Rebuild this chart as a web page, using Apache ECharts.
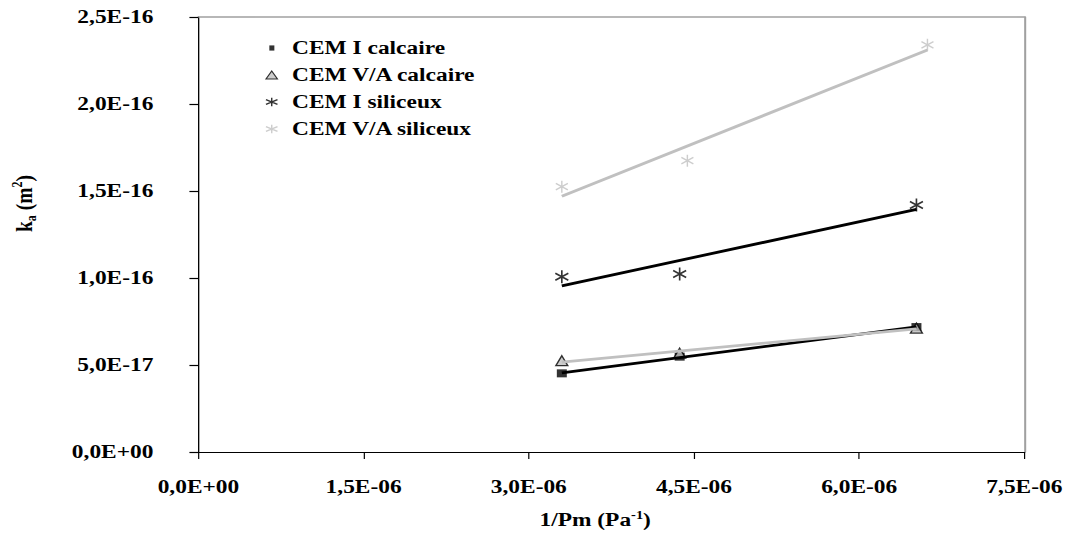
<!DOCTYPE html>
<html><head><meta charset="utf-8">
<script src="https://cdn.jsdelivr.net/npm/echarts@6/dist/echarts.min.js"></script>
<style>html,body{margin:0;padding:0;background:#fff;overflow:hidden}
#c{width:888px;height:535px;transform-origin:0 0;}</style>
</head><body><div id="c"></div>
<script>
const seriesNames = ['CEM I calcaire', 'CEM V/A calcaire', 'CEM I siliceux', 'CEM V/A siliceux'];
const cemICalcaireX = [3.30e-6, 4.37e-6, 6.52e-6];
const cemICalcaireY = [4.52e-17, 5.48e-17, 7.18e-17];
const cemVACalcaireX = [3.30e-6, 4.37e-6, 6.52e-6];
const cemVACalcaireY = [5.25e-17, 5.68e-17, 7.12e-17];
const cemISiliceuxX = [3.30e-6, 4.37e-6, 6.52e-6];
const cemISiliceuxY = [1.007e-16, 1.023e-16, 1.42e-16];
const cemVASiliceuxX = [3.30e-6, 4.44e-6, 6.62e-6];
const cemVASiliceuxY = [1.525e-16, 1.674e-16, 2.34e-16];
const xTicks = [0, 1.5e-6, 3e-6, 4.5e-6, 6e-6, 7.5e-6];
const yTicks = [0, 5e-17, 1e-16, 1.5e-16, 2e-16, 2.5e-16];

// the reference picture is horizontally stretched: draw narrower, then stretch
const W = 1066, W0 = 888, S = W / W0;
document.getElementById('c').style.transform = 'scaleX(' + S + ')';
const px = v => v / S; // real horizontal pixels -> pre-stretch pixels

const FONT = 'Liberation Serif';
const FS = 19.5;
const GRAY = '#c0c0c0';
const BORDER = '#a0a0a0';
const STAR = 'path://M5,0L5,13M0,3L10,10M0,10L10,3';
const LEG_SQUARE = 'path://M0,0M17,12M3,3.4h4.2v5.2h-4.2z';
const LEG_TRI = 'path://M0,0M17,12M5,2L9.8,10L0.2,10Z';
const LEG_STAR = 'path://M0,0M17,12M5,1.8L5,10.2M0.2,3.6L9.8,8.4M0.2,8.4L9.8,3.6';

function sci(v) {
  let s = Number(v).toExponential(1);
  let [m, e] = s.split('e');
  let sign = e[0] === '-' ? '-' : '+';
  let d = e.replace(/^[+-]/, '');
  if (d.length < 2) d = '0' + d;
  return m.replace('.', ',') + 'E' + sign + d;
}
function pairs(xs, ys) { return xs.map((x, i) => [x, ys[i]]); }
function trend(xs, ys) {
  const n = xs.length;
  const mx = xs.reduce((a, b) => a + b, 0) / n;
  const my = ys.reduce((a, b) => a + b, 0) / n;
  let sxy = 0, sxx = 0;
  for (let i = 0; i < n; i++) { sxy += (xs[i] - mx) * (ys[i] - my); sxx += (xs[i] - mx) ** 2; }
  const b = sxy / sxx, a = my - b * mx;
  const x0 = Math.min(...xs), x1 = Math.max(...xs);
  return [[x0, a + b * x0], [x1, a + b * x1]];
}
function trendSeries(xs, ys, color) {
  return { type: 'line', data: trend(xs, ys), symbol: 'none', silent: true, z: 3,
    lineStyle: { color: color, width: 2.8 } };
}
const txt = { fontFamily: FONT, fontWeight: 'bold', fontSize: FS, color: '#000' };
const xRange = { min: xTicks[0], max: xTicks[xTicks.length - 1], interval: xTicks[1] - xTicks[0] };
const yRange = { min: yTicks[0], max: yTicks[yTicks.length - 1], interval: yTicks[1] - yTicks[0] };

const chart = echarts.init(document.getElementById('c'), null, { renderer: 'svg', width: W0, height: 535 });
chart.setOption({
  animation: false,
  backgroundColor: '#fff',
  grid: { left: px(193), right: px(W - 1033), top: 17, bottom: 83, containLabel: false },
  legend: {
    orient: 'vertical', left: px(259), top: 33, itemGap: 7, itemWidth: 17, itemHeight: 12,
    textStyle: Object.assign({}, txt),
    data: [
      { name: seriesNames[0], icon: LEG_SQUARE, itemStyle: { color: '#000', borderWidth: 0 } },
      { name: seriesNames[1], icon: LEG_TRI, itemStyle: { color: GRAY, borderColor: '#000', borderWidth: 1 } },
      { name: seriesNames[2], icon: LEG_STAR, itemStyle: { color: 'transparent', borderColor: '#000', borderWidth: 1.2 } },
      { name: seriesNames[3], icon: LEG_STAR, itemStyle: { color: 'transparent', borderColor: GRAY, borderWidth: 1.2 } }
    ]
  },
  xAxis: [Object.assign({
    type: 'value', position: 'bottom',
    splitLine: { show: false },
    axisLine: { onZero: false, lineStyle: { color: '#000', width: 1.2 } },
    axisTick: { inside: false, length: 7, lineStyle: { color: '#000', width: 1 } },
    axisLabel: Object.assign({ margin: 25, formatter: sci }, txt),
    name: '{n|1/Pm (Pa}{sup|-1}{n|)}', nameLocation: 'middle', nameGap: 57,
    nameTextStyle: {
      padding: [0, 27, 0, 0],
      rich: {
        n: Object.assign({ lineHeight: 22 }, txt),
        sup: Object.assign({}, txt, { fontSize: 12, verticalAlign: 'top', lineHeight: 22, padding: [0, 0, 7, 0] })
      }
    }
  }, xRange), Object.assign({
    type: 'value', position: 'top',
    splitLine: { show: false },
    axisLine: { show: true, onZero: false, lineStyle: { color: BORDER, width: 1.5 } },
    axisTick: { show: false }, axisLabel: { show: false }
  }, xRange)],
  yAxis: [Object.assign({
    type: 'value', position: 'left',
    splitLine: { show: false },
    axisLine: { show: true, onZero: false, lineStyle: { color: '#000', width: 1.1 } },
    axisTick: { show: true, inside: false, length: px(9), lineStyle: { color: '#000', width: 1.2 } },
    axisLabel: Object.assign({ margin: px(45), formatter: sci }, txt),
    name: '{n|k}{sub|a}{n| (m}{sup|2}{n|)}', nameLocation: 'middle', nameGap: px(160), nameRotate: 90,
    nameTextStyle: {
      padding: [0, 0, 0, 62],
      rich: {
        n: Object.assign({ lineHeight: 24 }, txt),
        sub: Object.assign({}, txt, { fontSize: 12, verticalAlign: 'bottom', lineHeight: 24, padding: [7, 0, 0, 0] }),
        sup: Object.assign({}, txt, { fontSize: 12, verticalAlign: 'top', lineHeight: 24, padding: [0, 0, 7, 0] })
      }
    }
  }, yRange), Object.assign({
    type: 'value', position: 'right',
    splitLine: { show: false },
    axisLine: { show: true, onZero: false, lineStyle: { color: BORDER, width: 1.7 } },
    axisTick: { show: false }, axisLabel: { show: false }
  }, yRange)],
  series: [
    { name: seriesNames[0], type: 'scatter', data: pairs(cemICalcaireX, cemICalcaireY), z: 2,
      symbol: 'rect', symbolSize: [px(10), 8], itemStyle: { color: '#000' } },
    { name: seriesNames[1], type: 'scatter', data: pairs(cemVACalcaireX, cemVACalcaireY), z: 2,
      symbol: 'triangle', symbolSize: [px(12), 10], itemStyle: { color: GRAY, borderColor: '#000', borderWidth: 1.2 } },
    { name: seriesNames[2], type: 'scatter', data: pairs(cemISiliceuxX, cemISiliceuxY), z: 2,
      symbol: STAR, symbolSize: [px(13), 13], itemStyle: { color: 'transparent', borderColor: '#000', borderWidth: 1.5 } },
    { name: seriesNames[3], type: 'scatter', data: pairs(cemVASiliceuxX, cemVASiliceuxY), z: 2,
      symbol: STAR, symbolSize: [px(12), 12], itemStyle: { color: 'transparent', borderColor: GRAY, borderWidth: 1.3 } },
    trendSeries(cemICalcaireX, cemICalcaireY, '#000'),
    trendSeries(cemVACalcaireX, cemVACalcaireY, GRAY),
    trendSeries(cemISiliceuxX, cemISiliceuxY, '#000'),
    trendSeries(cemVASiliceuxX, cemVASiliceuxY, GRAY)
  ]
});
</script></body></html>
